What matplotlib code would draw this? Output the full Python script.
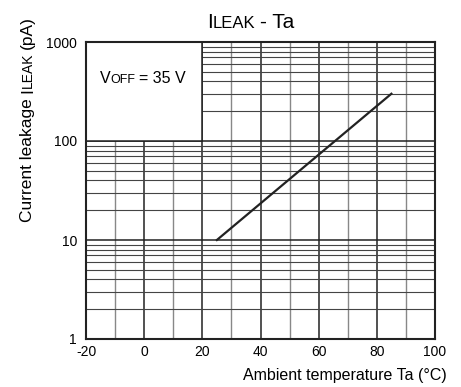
import matplotlib
matplotlib.use("Agg")
import matplotlib.pyplot as plt
from matplotlib.patches import Rectangle
from matplotlib.ticker import FixedLocator, NullFormatter, MultipleLocator
from matplotlib.transforms import IdentityTransform

plt.rcParams["font.family"] = ["Liberation Sans", "DejaVu Sans"]

# leakage current vs ambient temperature (V_OFF = 35 V)
temp_c = [25, 85]
leak_pa = [10, 300]

x_ticks = [-20, 0, 20, 40, 60, 80, 100]
x_tick_labels = ["-20", "0", "20", "40", "60", "80", "100"]
y_ticks = [1, 10, 100, 1000]
y_tick_labels = ["1", "10", "100", "1000"]

DARK = "#222222"
FIG_W, FIG_H, DPI = 4.61, 3.87, 100


def draw_runs(fig, runs, x, y, rotation=0, color="black"):
    """Draw text pieces of mixed size one after another along a baseline (pixel coords)."""
    renderer = fig.canvas.get_renderer()
    for s, size, space in runs:
        t = fig.text(x, y, s, transform=IdentityTransform(), fontsize=size,
                     rotation=rotation, rotation_mode="anchor",
                     ha="left", va="baseline", color=color)
        bb = t.get_window_extent(renderer)
        adv = bb.width if rotation == 0 else bb.height
        if space:
            probe_a = fig.text(0, 0, "a a", fontsize=size)
            probe_b = fig.text(0, 0, "aa", fontsize=size)
            adv += (probe_a.get_window_extent(renderer).width
                    - probe_b.get_window_extent(renderer).width)
            probe_a.remove()
            probe_b.remove()
        if rotation == 0:
            x += adv
        else:
            y += adv


fig = plt.figure(figsize=(FIG_W, FIG_H), dpi=DPI)
ax = fig.add_axes([86 / 461, 1 - 339 / 387, (435 - 86) / 461, (339 - 42) / 387])

ax.set_yscale("log")
ax.set_xlim(-20, 100)
ax.set_ylim(1, 1000)

ax.xaxis.set_major_locator(FixedLocator(x_ticks))
ax.set_xticklabels(x_tick_labels)
ax.xaxis.set_minor_locator(MultipleLocator(10))
ax.yaxis.set_major_locator(FixedLocator(y_ticks))
ax.set_yticklabels(y_tick_labels)
ax.yaxis.set_minor_formatter(NullFormatter())
ax.tick_params(which="both", length=0)
ax.tick_params(axis="y", pad=6.5, labelsize=10)
ax.tick_params(axis="x", pad=4, labelsize=10)

ax.set_axisbelow(True)
ax.grid(which="major", color=DARK, linewidth=1.1)
ax.grid(which="minor", axis="x", color="#888888", linewidth=1.0)
ax.grid(which="minor", axis="y", color="#444444", linewidth=0.8)

for spine in ax.spines.values():
    spine.set_linewidth(1.5)
    spine.set_color(DARK)
    spine.set_zorder(5)

# blank panel for the test condition
ax.add_patch(Rectangle((-20, 100), 40, 900, facecolor="white",
                       edgecolor=DARK, linewidth=1.1, zorder=1))

ax.plot(temp_c, leak_pa, color=DARK, linewidth=1.6, zorder=3)

# title, condition note and axis labels with small caps subscripts
draw_runs(fig, [("I", 15, False), ("LEAK", 12, True), ("- Ta", 15, False)],
          207, FIG_H * DPI - 28)
draw_runs(fig, [("V", 11.5, False), ("OFF", 9, True), ("= 35 V", 11.5, False)],
          100, FIG_H * DPI - 83)
draw_runs(fig, [("Current leakage", 12.5, True), ("I", 12.5, False), ("LEAK", 10, True),
                ("(pA)", 12.5, False)],
          32, FIG_H * DPI - 222, rotation=90)
fig.text(447 / 461, 1 - 380 / 387, "Ambient temperature Ta (\u00b0C)",
         ha="right", va="baseline", fontsize=11.5)

fig.savefig("out.png", dpi=DPI)
